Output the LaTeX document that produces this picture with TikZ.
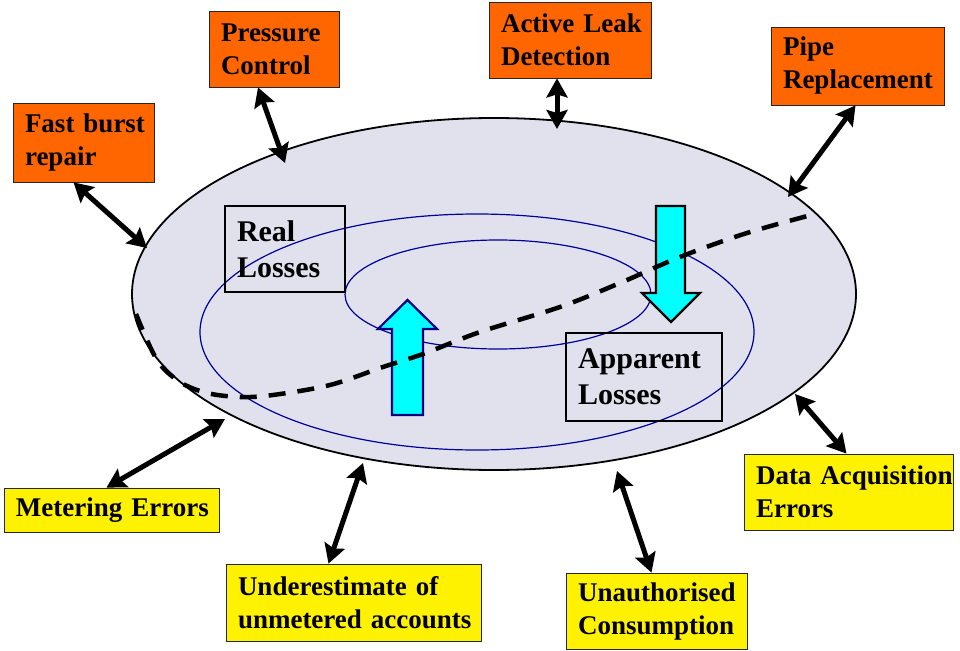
\documentclass[tikz,border=0pt]{standalone}
\usepackage{fontspec}
\setmainfont{Liberation Serif}
\usepackage{tikz}
\usetikzlibrary{arrows.meta,shapes.geometric}
\tikzset{>=Stealth}
\hfuzz=50pt
\definecolor{lossfill}{RGB}{225,225,238}
\definecolor{orangebox}{RGB}{255,102,0}
\definecolor{ringblue}{RGB}{0,0,153}
\definecolor{navyedge}{RGB}{0,0,128}
\definecolor{flowcyan}{RGB}{0,255,255}
\tikzset{
    label box/.style={draw=black!85, line width=0.8pt, align=left, inner xsep=12pt, inner ysep=0pt,
        font=\bfseries\fontsize{27}{33}\selectfont,
        execute at begin node={\hyphenpenalty=10000\relax}},
    action/.style={label box, fill=orangebox},
    cause/.style={label box, fill=yellow},
    loss box/.style={label box, draw=black, line width=2pt, font=\bfseries\fontsize{30}{36}\selectfont},
    ring/.style={draw=ringblue, line width=1.2pt, ellipse, inner sep=0pt},
    link/.style={>={Stealth[length=19pt,width=21pt,inset=3pt]}, <->, line width=5pt},
    bigarrow/.style={fill=flowcyan, line width=2.2pt, line join=miter},
    dashline/.style={line width=4.5pt, dash pattern=on 17pt off 12pt}
}

\begin{document}
\begin{tikzpicture}[x=1pt,y=-1pt]
    \useasboundingbox (0,0) rectangle (960,650);
    \node[draw, ellipse, fill=lossfill, line width=1.8pt, inner sep=0pt, minimum width=724pt, minimum height=352pt] (loss) at (494,294) {};
    \node[ring, minimum width=554pt, minimum height=236pt] (outer ring) at (477,332) {};
    \node[ring, minimum width=306pt, minimum height=109pt] (inner ring) at (498,294.5) {};

    \draw[bigarrow, draw=navyedge] (392,415) -- (392,329) -- (378,329) -- (407.5,300) -- (437,329) -- (423,329) -- (423,415) -- cycle;
    \draw[bigarrow, draw=black] (656,206) -- (656,293) -- (642,293) -- (671,322) -- (700,293) -- (685,293) -- (685,206) -- cycle;

    \draw[dashline] plot[smooth, tension=0.55] coordinates {(136,314) (157,360) (180,382) (207,393) (240,397) (273,395) (330,385) (383,367) (423,354) (480,332) (560,307) (620,283) (680,257) (747,233) (815,214)};

    \node[loss box, text width=96pt, minimum height=86pt] (real) at (285,249) {Real\\Losses};
    \node[loss box, text width=132pt, minimum height=88pt] (apparent) at (644,377) {Apparent\\Losses};

    \node[action, text width=117pt, minimum height=79pt] (fbr) at (83.5,142.5) {Fast~burst\\repair};
    \node[action, text width=106pt, minimum height=76pt] (pc) at (274,49) {Pressure\\Control};
    \node[action, text width=138pt, minimum height=76pt] (ald) at (570,40) {Active~Leak\\Detection};
    \node[action, text width=149pt, minimum height=78pt] (pr) at (857.5,66) {Pipe\\Replacement};
    \node[cause, text width=191pt, minimum height=44pt] (me) at (111.5,510) {Metering~Errors};
    \node[cause, text width=231pt, minimum height=77pt] (uua) at (353.5,602.5) {Underestimate~of\\unmetered~accounts};
    \node[cause, text width=157pt, minimum height=76pt] (uc) at (656.5,611) {Unauthorised\\Consumption};
    \node[cause, text width=185pt, minimum height=76pt] (dae) at (848.5,492) {Data~Acquisition\\Errors};

    \coordinate (fbr end) at (147,248);
    \coordinate (pc end) at (285,163);
    \coordinate (ald end) at (557,129);
    \coordinate (pr end) at (788,197);
    \coordinate (me end) at (225,419);
    \coordinate (uua end) at (363,463);
    \coordinate (uc end) at (617,471);
    \coordinate (dae end) at (795,394);

    \path[link]
    ([xshift=-10pt]fbr.south) edge (fbr end)
    ([xshift=-16pt]pc.south) edge (pc end)
    ([xshift=-13pt]ald.south) edge (ald end)
    ([xshift=-2pt]pr.south) edge (pr end)
    ([xshift=-5pt]me.north) edge (me end)
    ([xshift=-25pt]uua.north) edge (uua end)
    ([xshift=-5pt]uc.north) edge (uc end)
    ([xshift=-2pt]dae.north) edge (dae end)
    ;
\end{tikzpicture}
\end{document}
